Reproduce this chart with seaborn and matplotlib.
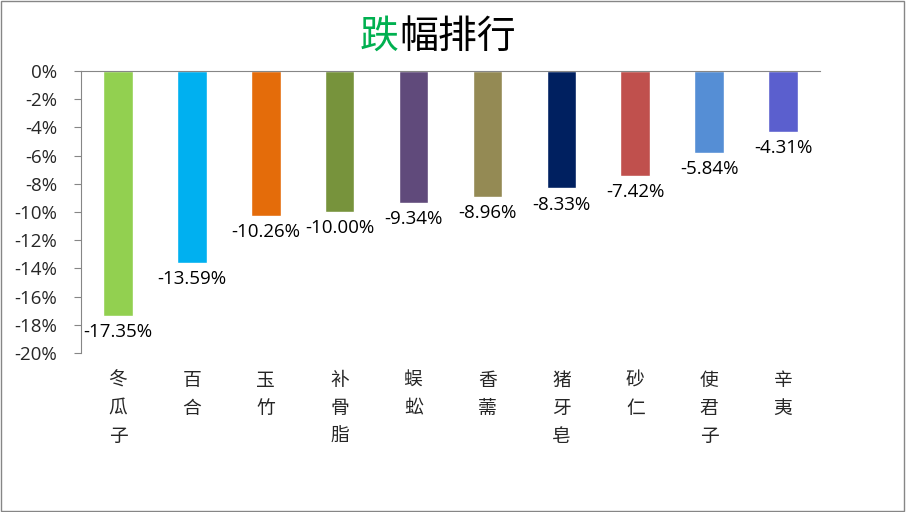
import matplotlib
matplotlib.use("Agg")
import matplotlib.pyplot as plt
import matplotlib.patches as mpatches
import seaborn as sns
import pandas as pd

names = ['冬瓜子', '百合', '玉竹', '补骨脂', '蜈蚣', '香薷', '猪牙皂', '砂仁', '使君子', '辛夷']
changes = [-17.35, -13.59, -10.26, -10.00, -9.34, -8.96, -8.33, -7.42, -5.84, -4.31]
bar_colors = ['#92D050', '#00B0F0', '#E46C0A', '#77933C', '#604A7B',
              '#948A54', '#002060', '#C0504D', '#558ED5', '#5B5FCE']
yticks = list(range(0, -21, -2))

sns.set_theme(style='white')
plt.rcParams['font.family'] = ['Noto Sans CJK SC', 'DejaVu Sans']
num_font = ['Open Sans', 'DejaVu Sans']

df = pd.DataFrame({'name': names, 'change': changes})

fig = plt.figure(figsize=(9.06, 5.12), dpi=100)
ax = fig.add_axes([81 / 906, 1 - 353 / 512, 739 / 906, 282 / 512])

sns.barplot(data=df, x='name', y='change', hue='name', palette=bar_colors,
            width=0.4, legend=False, ax=ax, saturation=1)

for i, v in enumerate(changes):
    ax.text(i, v - 0.5, f'{v:.2f}%', ha='center', va='top', fontsize=13.5,
            family=num_font, color='black')

ax.set_ylim(-20, 0)
ax.set_xlim(-0.5, len(names) - 0.5)
ax.set_yticks(yticks)
ax.set_yticklabels([f'{t}%' for t in yticks], family=num_font, fontsize=13.5)
ax.set_xticks(range(len(names)))
ax.set_xticklabels(['\n'.join(n) for n in names], fontsize=13.5, va='top', linespacing=1.45)
ax.tick_params(axis='x', length=0, pad=12)
ax.tick_params(axis='y', length=5, width=0.8, color='#868686', left=True, pad=12)
ax.set_xlabel('')
ax.set_ylabel('')

for s in ['right', 'bottom']:
    ax.spines[s].set_visible(False)
ax.spines['left'].set_color('#868686')
ax.spines['top'].set_color('#868686')
ax.spines['left'].set_linewidth(0.8)
ax.spines['top'].set_linewidth(0.8)

ty = 1 - 37 / 512
fig.text(360 / 906, ty, '跌', color='#00B050', fontsize=28, ha='left', va='center')
fig.text(399 / 906, ty, '幅排行', color='black', fontsize=28, ha='left', va='center')

fig.patches.append(mpatches.Rectangle((0.001, 0.002), 0.997, 0.996, transform=fig.transFigure,
                                      fill=False, edgecolor='#868686', linewidth=1))

fig.savefig('out.png', dpi=100)
